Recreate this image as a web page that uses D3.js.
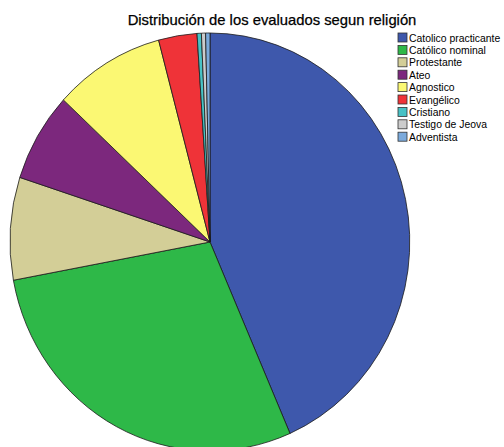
<!DOCTYPE html>
<html>
<head>
<meta charset="utf-8">
<script src="https://cdn.jsdelivr.net/npm/d3@7"></script>
<style>
  html, body { margin: 0; padding: 0; background: #fff; }
  svg { display: block; }
</style>
</head>
<body>
<svg id="chart" width="504" height="447"></svg>
<script>
const categories = ["Catolico practicante", "Católico nominal", "Protestante", "Ateo", "Agnostico", "Evangélico", "Cristiano", "Testigo de Jeova", "Adventista"];
const values = [126, 83, 23, 20, 26, 9, 1, 1, 1];
const colors = ["#3e58ac", "#2eb848", "#d3ce97", "#7c287d", "#fbf873", "#ef3338", "#48c2c5", "#cccccc", "#7baadc"];
const title = "Distribución de los evaluados segun religión";

const svg = d3.select("#chart");
const data = categories.map((c, i) => ({ name: c, value: values[i], color: colors[i] }));

const pie = d3.pie().value(d => d.value).sort(null);
const arc = d3.arc().innerRadius(0).outerRadius(1);

const g = svg.append("g").attr("transform", "translate(210,242) scale(200,209)");
g.selectAll("path")
  .data(pie(data))
  .join("path")
  .attr("d", arc)
  .attr("fill", d => d.data.color)
  .attr("stroke", "#1a1a1a")
  .attr("stroke-width", 0.8)
  .attr("vector-effect", "non-scaling-stroke");

svg.append("text")
  .attr("x", 272)
  .attr("y", 25)
  .attr("text-anchor", "middle")
  .attr("font-family", "Liberation Sans, Arial, sans-serif")
  .attr("font-size", 14.8)
  .attr("fill", "#000")
  .attr("stroke", "#000")
  .attr("stroke-width", 0.25)
  .text(title);

const legend = svg.append("g").attr("transform", "translate(398,33)");
const rows = legend.selectAll("g").data(data).join("g")
  .attr("transform", (d, i) => `translate(0,${i * 12.4})`);
rows.append("rect")
  .attr("width", 9).attr("height", 9)
  .attr("fill", d => d.color)
  .attr("stroke", "#333").attr("stroke-width", 0.8);
rows.append("text")
  .attr("x", 11).attr("y", 8.5)
  .attr("font-family", "Liberation Sans, Arial, sans-serif")
  .attr("font-size", 10.4)
  .attr("fill", "#000")
  .text(d => d.name);
</script>
</body>
</html>
